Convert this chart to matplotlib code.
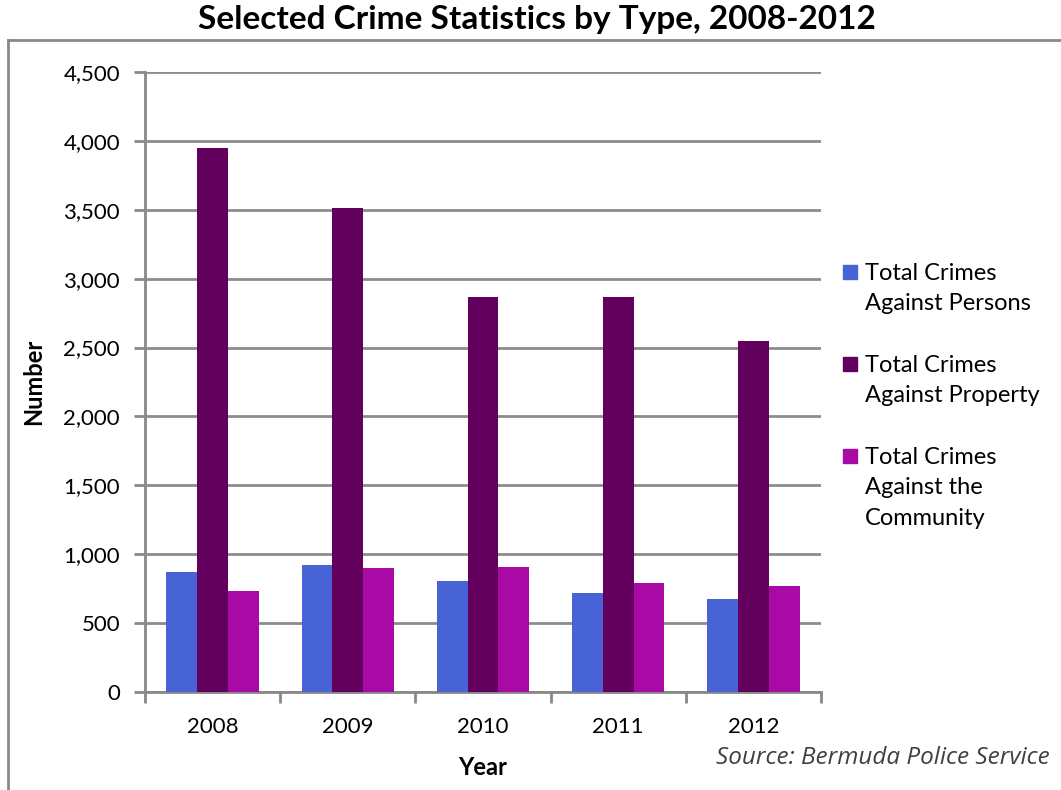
import numpy as np
import matplotlib.pyplot as plt
from matplotlib.lines import Line2D
from matplotlib.patches import Rectangle

years = ['2008', '2009', '2010', '2011', '2012']
persons = [871, 924, 803, 721, 677]
property_ = [3948, 3515, 2869, 2865, 2548]
community = [733, 900, 907, 789, 772]

series = [
    ('Total Crimes\nAgainst Persons', persons, '#4863d6'),
    ('Total Crimes\nAgainst Property', property_, '#63005e'),
    ('Total Crimes\nAgainst the\nCommunity', community, '#a90aa6'),
]

plt.rcParams['font.family'] = ['Lato', 'DejaVu Sans']

W, H = 1061, 790
fig = plt.figure(figsize=(W / 100, H / 100), dpi=100)
ax = fig.add_axes([0.1367, 0.1241, 0.6371, 0.7848])

x = np.arange(len(years))
w = 0.228
for i, (lab, vals, col) in enumerate(series):
    ax.bar(x + (i - 1) * w, vals, width=w, color=col, label=lab, zorder=3)

ax.set_xlim(-0.5, len(years) - 0.5)
ax.set_ylim(0, 4500)
ax.set_yticks(np.arange(0, 4501, 500))
ax.set_yticklabels([f'{v:,}' for v in range(0, 4501, 500)], fontsize=16)
ax.set_xticks(x)
ax.set_xticklabels(years, fontsize=16)
ax.set_xticks(np.arange(-0.5, len(years)), minor=True)
ax.tick_params(axis='x', which='major', length=0, pad=18)
ax.tick_params(axis='x', which='minor', length=8, width=2, color='#888888')
ax.tick_params(axis='y', length=8, width=2, color='#888888', pad=10)

ax.yaxis.grid(True, color='#8c8c8c', linewidth=2, zorder=0)
for s in ['top', 'right']:
    ax.spines[s].set_visible(False)
for s in ['left', 'bottom']:
    ax.spines[s].set_color('#888888')
    ax.spines[s].set_linewidth(2)

ax.set_xlabel('Year', fontsize=17, fontweight='bold', labelpad=14)
ax.set_ylabel('Number', fontsize=17, fontweight='bold', labelpad=13)

fig.text(537 / W, 1 - 20 / H, 'Selected Crime Statistics by Type, 2008-2012',
         ha='center', va='center', fontsize=24, fontweight='bold')
fig.text(1050 / W, 1 - 758 / H, 'Source: Bermuda Police Service', ha='right',
         va='center', fontsize=17.5, style='italic', color='#404040',
         family=['Open Sans', 'DejaVu Sans'])

# legend drawn by hand so the square sits on the first line
first_line = [272, 364, 456]
for (lab, vals, col), yl in zip(series, first_line):
    fig.add_artist(Rectangle((843 / W, 1 - (yl + 7) / H), 14 / W, 14 / H,
                             color=col, transform=fig.transFigure))
    fig.text(865 / W, 1 - (yl - 9) / H, lab, ha='left', va='top',
             fontsize=17, linespacing=1.55)

# outer frame
fig.add_artist(Line2D([0.0075, 0.0075], [0.0, 0.949], color='#888888', linewidth=2))
fig.add_artist(Line2D([0.0075, 1.0], [0.949, 0.949], color='#888888', linewidth=2))

fig.savefig('out.png', dpi=100)
